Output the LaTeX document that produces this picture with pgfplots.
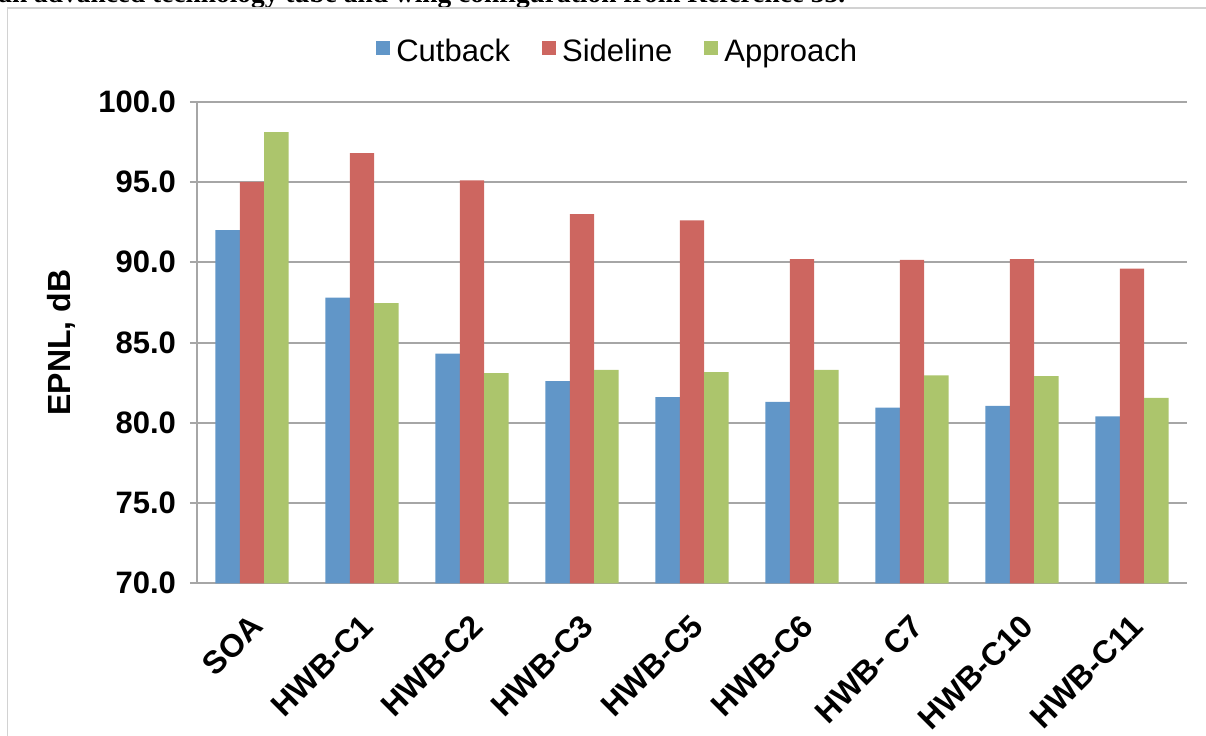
\documentclass[border=0pt]{standalone}
\usepackage{pgfplots}
\pgfplotsset{compat=1.18}
\usepackage{fontspec}
\setmainfont{Liberation Sans}
\newfontfamily\capfont{Liberation Serif}
\definecolor{cblue}{RGB}{97,150,200}
\definecolor{cred}{RGB}{205,102,96}
\definecolor{cgreen}{RGB}{172,197,108}
\definecolor{gridgray}{RGB}{166,166,166}
\definecolor{framegray}{RGB}{210,210,210}
\pgfplotsset{sqlegend/.style={legend image code/.code={\fill[##1] (0pt,-1.3pt) rectangle (7pt,5.7pt);}}}
\begin{document}
\begin{tikzpicture}
\useasboundingbox (0,0) rectangle (603pt,367.5pt);
\node[anchor=base west, inner sep=0pt, font=\capfont\bfseries\fontsize{13.7}{16}\selectfont] at (-1pt,366.4pt) {an advanced technology tube and wing configuration from Reference 33.};
\draw[framegray, line width=0.75pt] (3.75pt,-2pt) -- (3.75pt,363.5pt) -- (610pt,363.5pt);
\begin{axis}[
  at={(98.5pt,75.85pt)}, anchor=south west,
  scale only axis, width=495pt, height=240.8pt,
  xmin=-0.5, xmax=8.5, ymin=70, ymax=100,
  ytick={70,75,80,85,90,95,100},
  xtick={0,1,2,3,4,5,6,7,8},
  xticklabels={SOA,HWB-C1,HWB-C2,HWB-C3,HWB-C5,HWB-C6,HWB- C7,HWB-C10,HWB-C11},
  axis x line*=bottom, axis y line*=left,
  axis line style={gridgray, line width=1pt},
  every outer x axis line/.append style={-}, every outer y axis line/.append style={-},
  ymajorgrids, grid style={gridgray, line width=1pt},
  tick align=outside, major tick length=3.5pt,
  ytick style={gridgray, line width=1pt},
  xtick style={draw=none},
  ybar=0pt, bar width=0.222,
  /pgf/number format/assume math mode=true,
  yticklabel={\pgfmathprintnumber[fixed,fixed zerofill,precision=1]{\tick}},
  yticklabel style={xshift=-3.5pt, font=\bfseries\fontsize{15.5}{18}\selectfont},
  xticklabel style={xshift=-1.4pt, yshift=-6.2pt, rotate=45, anchor=north east, font=\bfseries\fontsize{16}{19}\selectfont},
  ylabel={EPNL, dB},
  ylabel style={font=\bfseries\fontsize{16}{19}\selectfont, at={(axis description cs:-0.128,0.5)}, anchor=base},
  legend columns=3,
  legend style={draw=none, fill=none, at={(axis description cs:0.426,1.103)}, anchor=center,
    font=\fontsize{15.5}{18}\selectfont,
    /tikz/every odd column/.append style={column sep=1pt},
    /tikz/every even column/.append style={column sep=14pt}},
]
\addplot[fill=cblue, draw=none, sqlegend] coordinates {(0,92.0) (1,87.8) (2,84.3) (3,82.6) (4,81.6) (5,81.3) (6,80.95) (7,81.05) (8,80.4)};
\addplot[fill=cred, draw=none, sqlegend] coordinates {(0,95.0) (1,96.8) (2,95.1) (3,93.0) (4,92.6) (5,90.2) (6,90.15) (7,90.2) (8,89.6)};
\addplot[fill=cgreen, draw=none, sqlegend] coordinates {(0,98.1) (1,87.45) (2,83.1) (3,83.3) (4,83.15) (5,83.3) (6,82.95) (7,82.9) (8,81.55)};
\legend{Cutback,Sideline,Approach}
\end{axis}
\end{tikzpicture}
\end{document}
